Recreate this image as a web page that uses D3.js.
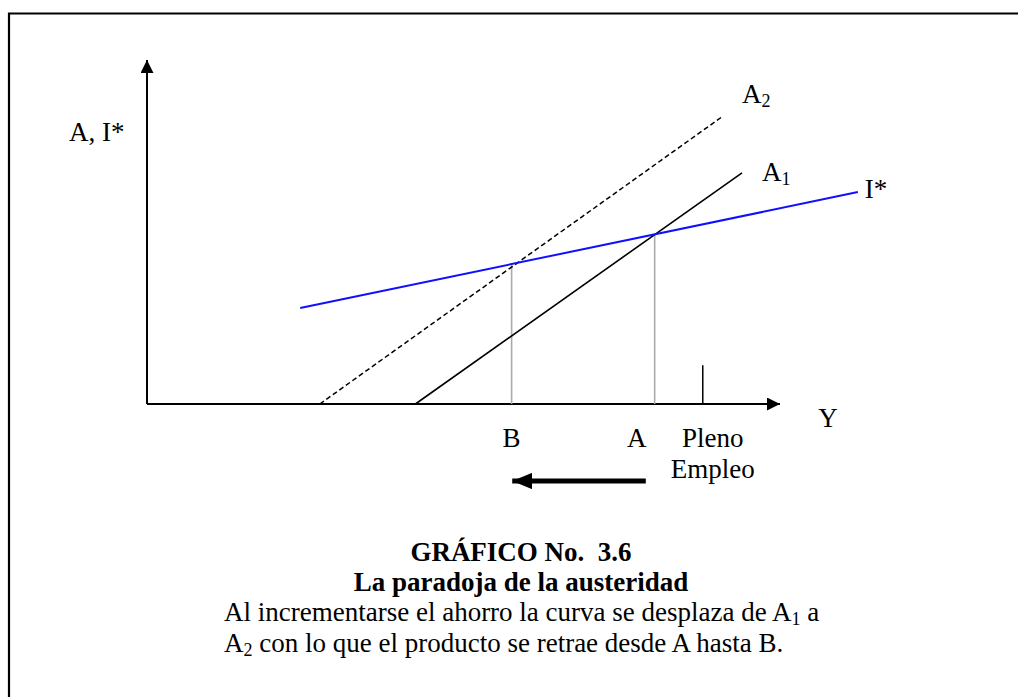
<!DOCTYPE html>
<html>
<head>
<meta charset="utf-8">
<script src="https://cdn.jsdelivr.net/npm/d3@7"></script>
<style>
  body { margin: 0; background: #fff; }
</style>
</head>
<body>
<div id="chart"></div>
<script>
// curve end points, in chart units (x: product Y, y: A, I*)
var a2Line = [[27.3, 0], [91.0, 83.7]];
var a1Line = [[42.4, 0], [94.0, 67.2]];
var iStarLine = [[24.2, 27.9], [112.3, 61.6]];
// equilibria dropped to the Y axis
var equilibria = [
  {label: "B", x: 57.6, y: 40.7},
  {label: "A", x: 80.2, y: 49.3}
];
var plenoEmpleo = {x: 87.8, tick: 11.3, lines: ["Pleno", "Empleo"]};
var shiftArrow = [78.8, 57.7]; // from A towards B

var title = "GRÁFICO No.  3.6";
var subtitle = "La paradoja de la austeridad";

var W = 1018, H = 697;
var FS = 27, SUB = 18;
var serif = "'Liberation Serif', 'Times New Roman', Times, serif";

var svg = d3.select("#chart").append("svg")
    .attr("width", W)
    .attr("height", H)
    .attr("font-family", serif);

// frame (only top and left edges show)
svg.append("path")
    .attr("d", "M9,705V13.5H1025")
    .attr("fill", "none")
    .attr("stroke", "#000")
    .attr("stroke-width", 2.2);

var x = d3.scaleLinear().domain([0, 100]).range([147, 780]);
var y = d3.scaleLinear().domain([0, 100]).range([404, 60]);

var defs = svg.append("defs");
defs.append("marker")
    .attr("id", "head")
    .attr("viewBox", "0 0 10 10")
    .attr("refX", 10).attr("refY", 5)
    .attr("markerWidth", 6.5).attr("markerHeight", 6.5)
    .attr("markerUnits", "strokeWidth")
    .attr("orient", "auto")
  .append("path")
    .attr("d", "M0,0L10,5L0,10z")
    .attr("fill", "#000");
defs.append("marker")
    .attr("id", "bighead")
    .attr("viewBox", "0 0 10 10")
    .attr("refX", 10).attr("refY", 5)
    .attr("markerWidth", 4).attr("markerHeight", 3.3)
    .attr("markerUnits", "strokeWidth")
    .attr("orient", "auto")
    .attr("preserveAspectRatio", "none")
  .append("path")
    .attr("d", "M0,0L10,5L0,10z")
    .attr("fill", "#000");

var line = d3.line()
    .x(function(d) { return x(d[0]); })
    .y(function(d) { return y(d[1]); });

// axes
svg.append("path")
    .attr("d", line([[0, 0], [0, 100]]))
    .attr("stroke", "#000").attr("stroke-width", 2)
    .attr("marker-end", "url(#head)");
svg.append("path")
    .attr("d", line([[0, 0], [100, 0]]))
    .attr("stroke", "#000").attr("stroke-width", 2)
    .attr("marker-end", "url(#head)");

// drop lines
svg.selectAll("line.drop")
    .data(equilibria)
    .enter().append("line")
      .attr("class", "drop")
      .attr("x1", function(d) { return x(d.x); })
      .attr("x2", function(d) { return x(d.x); })
      .attr("y1", function(d) { return y(d.y); })
      .attr("y2", y(0))
      .attr("stroke", "#aaa")
      .attr("stroke-width", 1.6);

// full employment tick
svg.append("line")
    .attr("x1", x(plenoEmpleo.x)).attr("x2", x(plenoEmpleo.x))
    .attr("y1", y(plenoEmpleo.tick)).attr("y2", y(0))
    .attr("stroke", "#000").attr("stroke-width", 1.5);

// curves
svg.append("path")
    .attr("d", line(a2Line))
    .attr("fill", "none")
    .attr("stroke", "#000").attr("stroke-width", 1.5)
    .attr("stroke-dasharray", "5,3");
svg.append("path")
    .attr("d", line(a1Line))
    .attr("fill", "none")
    .attr("stroke", "#000").attr("stroke-width", 1.6);
svg.append("path")
    .attr("d", line(iStarLine))
    .attr("fill", "none")
    .attr("stroke", "#1010ff").attr("stroke-width", 2);

// curve labels
function subLabel(px, py, main, sub) {
  var t = svg.append("text")
      .attr("x", px).attr("y", py)
      .attr("font-size", FS);
  t.append("tspan").text(main);
  if (sub) {
    t.append("tspan").text(sub)
        .attr("dy", 4)
        .attr("font-size", SUB);
  }
  return t;
}
subLabel(x(a2Line[1][0]) + 19, y(a2Line[1][1]) - 13, "A", "2");
subLabel(x(a1Line[1][0]) + 20, y(a1Line[1][1]) + 8, "A", "1");
subLabel(x(iStarLine[1][0]) + 7, y(iStarLine[1][1]) + 6, "I*");
subLabel(69, 141, "A, I*");
svg.append("text")
    .attr("x", 828).attr("y", 427)
    .attr("text-anchor", "middle")
    .attr("font-size", FS)
    .text("Y");

// equilibrium labels under axis
svg.selectAll("text.eq")
    .data(equilibria)
    .enter().append("text")
      .attr("class", "eq")
      .attr("x", function(d, i) { return x(d.x) - (i ? 18 : 0); })
      .attr("y", 447)
      .attr("text-anchor", "middle")
      .attr("font-size", FS)
      .text(function(d) { return d.label; });

svg.selectAll("text.pe")
    .data(plenoEmpleo.lines)
    .enter().append("text")
      .attr("class", "pe")
      .attr("x", x(plenoEmpleo.x) + 10)
      .attr("y", function(d, i) { return 447 + i * 31; })
      .attr("text-anchor", "middle")
      .attr("font-size", FS)
      .text(function(d) { return d; });

// shift arrow
svg.append("path")
    .attr("d", "M" + x(shiftArrow[0]) + ",481H" + x(shiftArrow[1]))
    .attr("stroke", "#000").attr("stroke-width", 5)
    .attr("marker-end", "url(#bighead)");

// caption
svg.append("text")
    .attr("x", 521).attr("y", 561)
    .attr("text-anchor", "middle")
    .attr("font-size", FS).attr("font-weight", "bold")
    .attr("xml:space", "preserve")
    .style("white-space", "pre")
    .text(title);
svg.append("text")
    .attr("x", 521).attr("y", 591)
    .attr("text-anchor", "middle")
    .attr("font-size", FS).attr("font-weight", "bold")
    .text(subtitle);

var c1 = svg.append("text").attr("x", 224).attr("y", 621)
    .attr("font-size", FS);
c1.append("tspan").text("Al incrementarse el ahorro la curva se desplaza de A");
c1.append("tspan").text("1").attr("dy", 4).attr("font-size", SUB);
c1.append("tspan").text(" a").attr("dy", -4);

var c2 = svg.append("text").attr("x", 224).attr("y", 652)
    .attr("font-size", FS);
c2.append("tspan").text("A");
c2.append("tspan").text("2").attr("dy", 4).attr("font-size", SUB);
c2.append("tspan").text(" con lo que el producto se retrae desde A hasta B.").attr("dy", -4);
</script>
</body>
</html>
